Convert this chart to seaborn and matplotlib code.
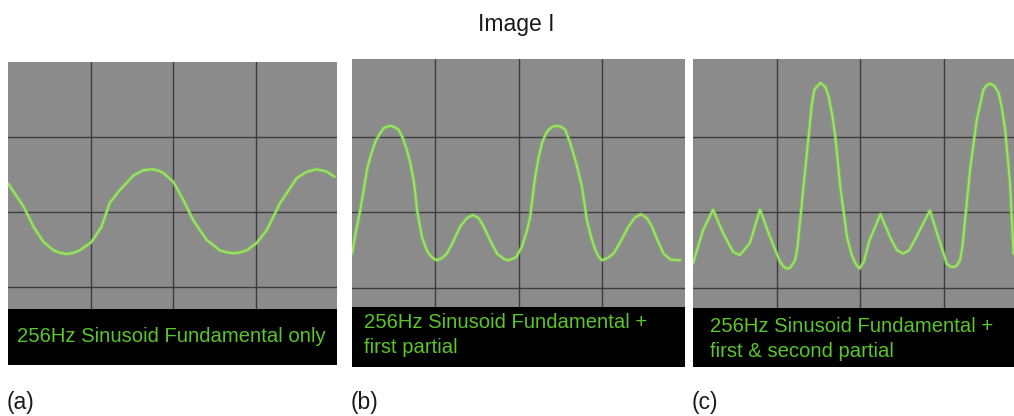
import matplotlib
matplotlib.use('Agg')
import matplotlib.pyplot as plt
import seaborn as sns
import pandas as pd

# waveform samples read off the scope screens, in grid units
# (x: divisions from left edge, y: divisions above the middle gridline)
a_x = [0, 0.08, 0.19, 0.31, 0.43, 0.55, 0.63, 0.71, 0.79, 0.87, 1.01, 1.13, 1.23, 1.35,
       1.52, 1.63, 1.74, 1.81, 1.88, 2.0, 2.12, 2.24, 2.40, 2.56, 2.65, 2.74, 2.82, 2.89,
       3.01, 3.13, 3.29, 3.49, 3.61, 3.73, 3.85, 3.95]
a_y = [0.38, 0.25, 0.07, -0.20, -0.40, -0.51, -0.545, -0.56, -0.545, -0.51, -0.40, -0.20,
       0.12, 0.29, 0.49, 0.555, 0.57, 0.555, 0.52, 0.40, 0.16, -0.11, -0.37, -0.51, -0.54,
       -0.55, -0.535, -0.51, -0.41, -0.24, 0.12, 0.45, 0.535, 0.57, 0.54, 0.47]

b_x = [0, 0.05, 0.10, 0.14, 0.18, 0.22, 0.28, 0.33, 0.38, 0.42, 0.46, 0.50, 0.56, 0.61,
       0.66, 0.70, 0.74, 0.76, 0.78, 0.81, 0.84, 0.88, 0.92, 0.97, 1.02, 1.08, 1.14, 1.22,
       1.30, 1.38, 1.45, 1.52, 1.58, 1.66, 1.74, 1.82, 1.88, 1.97, 2.04, 2.10, 2.14, 2.17,
       2.20, 2.24, 2.28, 2.32, 2.36, 2.41, 2.46, 2.51, 2.56, 2.62, 2.68, 2.72, 2.76, 2.79,
       2.82, 2.87, 2.92, 2.96, 3.0, 3.07, 3.14, 3.23, 3.32, 3.40, 3.47, 3.54, 3.60, 3.67,
       3.74, 3.82, 3.94]
b_y = [-0.55, -0.24, 0.03, 0.29, 0.56, 0.73, 0.93, 1.03, 1.11, 1.13, 1.14, 1.13, 1.09,
       0.98, 0.82, 0.65, 0.42, 0.25, 0.03, -0.15, -0.33, -0.46, -0.55, -0.61, -0.64, -0.61,
       -0.55, -0.38, -0.19, -0.08, -0.04, -0.08, -0.19, -0.38, -0.55, -0.62, -0.64, -0.60,
       -0.46, -0.25, -0.06, 0.22, 0.47, 0.72, 0.91, 1.02, 1.09, 1.13, 1.14, 1.13, 1.09,
       0.91, 0.69, 0.52, 0.34, 0.12, -0.11, -0.33, -0.50, -0.59, -0.64, -0.61, -0.55,
       -0.38, -0.19, -0.07, -0.03, -0.08, -0.19, -0.38, -0.55, -0.63, -0.64]

c_x = [0, 0.12, 0.24, 0.36, 0.48, 0.56, 0.68, 0.80, 0.92, 1.04, 1.08, 1.12, 1.16, 1.22,
       1.25, 1.28, 1.32, 1.36, 1.42, 1.45, 1.52, 1.58, 1.62, 1.66, 1.70, 1.76, 1.84, 1.90,
       1.94, 1.99, 2.04, 2.11, 2.24, 2.37, 2.44, 2.51, 2.58, 2.65, 2.83, 2.93, 3.03, 3.07,
       3.11, 3.15, 3.19, 3.22, 3.25, 3.28, 3.31, 3.39, 3.47, 3.51, 3.55, 3.60, 3.65, 3.69,
       3.73, 3.79, 3.83]
c_y = [-0.68, -0.24, 0.03, -0.28, -0.53, -0.57, -0.41, 0.03, -0.33, -0.66, -0.72, -0.75,
       -0.74, -0.64, -0.45, -0.11, 0.34, 0.77, 1.43, 1.62, 1.71, 1.66, 1.53, 1.31, 1.00,
       0.33, -0.33, -0.58, -0.68, -0.75, -0.66, -0.37, -0.03, -0.37, -0.51, -0.55, -0.51,
       -0.37, 0.02, -0.33, -0.68, -0.72, -0.73, -0.71, -0.64, -0.45, -0.11, 0.22, 0.56,
       1.22, 1.62, 1.68, 1.70, 1.67, 1.58, 1.38, 1.09, 0.34, -0.55]

captions = [["256Hz Sinusoid Fundamental only"],
            ["256Hz Sinusoid Fundamental +", "first partial"],
            ["256Hz Sinusoid Fundamental +", "first & second partial"]]
labels = ["(a)", "(b)", "(c)"]
title = "Image I"

sns.set_style("white")
plt.rcParams['font.family'] = ['Liberation Sans', 'DejaVu Sans']

W, H = 1014, 416
fig = plt.figure(figsize=(W / 100, H / 100), dpi=100)


def px_axes(left, top, right, bottom):
    return fig.add_axes([left / W, 1 - bottom / H, (right - left) / W, (bottom - top) / H])


def px_text(x, y, s, **kw):
    fig.text(x / W, 1 - y / H, s, **kw)


# left, top, right, black bottom, grey bottom (px), px per division (x, y), middle gridline y
panels = [
    (8, 62, 337, 365, 309, 82.7, 75.0, 212),
    (352, 59, 685, 367, 307, 83.3, 75.5, 212),
    (693, 59, 1014, 367, 308, 83.7, 75.5, 212),
]
series = [(a_x, a_y), (b_x, b_y), (c_x, c_y)]
text_pos = [(17, [342.5]), (364, [328, 353]), (710, [332, 357])]

for (l, t, r, b, g, ux, uy, mid), (xs, ys), cap, (tx, tys), lab in zip(
        panels, series, captions, text_pos, labels):
    ax = px_axes(l, t, r, b)
    ax.set_facecolor('#8b8b8b')
    df = pd.DataFrame({'x': xs, 'y': ys})
    # soft glow under the trace, like the scope phosphor
    sns.lineplot(data=df, x='x', y='y', ax=ax, sort=False, color='#7fcf55',
                 linewidth=3.0, alpha=0.45, zorder=3)
    sns.lineplot(data=df, x='x', y='y', ax=ax, sort=False, color='#9ae860',
                 linewidth=1.4, zorder=4)
    ax.set_xlim(0, (r - l) / ux)
    ax.set_ylim((mid - b) / uy, (mid - t) / uy)
    ax.axhspan((mid - b) / uy, (mid - g) / uy, color='black', zorder=2, lw=0)
    ax.set_xticks([1, 2, 3])
    ax.set_yticks([-1, 0, 1])
    ax.set_axisbelow(True)
    ax.grid(True, color='#3c3c3c', linewidth=1.0)
    ax.tick_params(length=0, labelbottom=False, labelleft=False)
    ax.set_xlabel('')
    ax.set_ylabel('')
    for s in ax.spines.values():
        s.set_visible(False)
    for line, ty in zip(cap, tys):
        px_text(tx, ty, line, color='#5cc42c', fontsize=14.6, va='baseline', ha='left')
    px_text(l - 1, 403, lab, fontsize=16.5, va='center', ha='left', color='#1a1a1a')

px_text(516, 25, title, fontsize=16.5, va='center', ha='center', color='#1a1a1a')

fig.savefig('out.png', dpi=100)
